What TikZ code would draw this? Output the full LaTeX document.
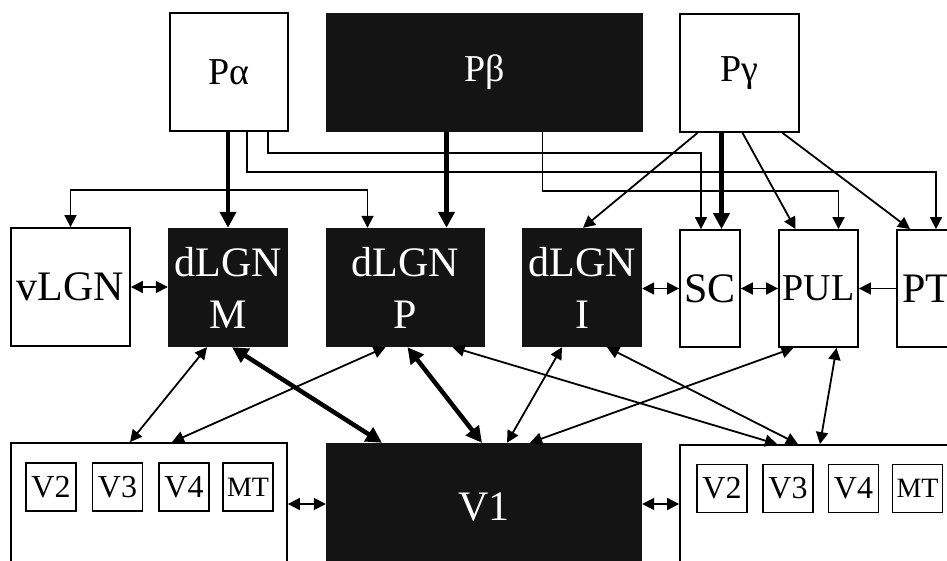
\documentclass[tikz,border=0pt]{standalone}
\usepackage{fontspec}
\setmainfont{Liberation Serif}
\usetikzlibrary{shapes.geometric, arrows.meta}
\tikzstyle{lightbox} = [rectangle, draw, line width=1.8pt, fill=white, text centered, inner sep=0pt, align=center]
\tikzstyle{darkbox} = [rectangle, fill=black!92, text=white, text centered, inner sep=0pt, align=center]
\tikzstyle{areabox} = [rectangle, draw, line width=1.4pt, fill=white, minimum width=50pt, minimum height=48pt, inner sep=0pt, font=\fontsize{32}{36}\selectfont]
\tikzstyle{greektxt} = [font=\fontsize{38}{44}\selectfont]
\tikzstyle{nametxt} = [font=\fontsize{42}{52}\selectfont]
\tikzstyle{arrow} = [line width=1.8pt,->,>={Triangle[length=12pt,width=12pt]}]
\tikzstyle{both} = [arrow,<->]
\tikzstyle{heavy} = [line width=4.5pt,->,>={Triangle[length=16pt,width=16pt]}]
\tikzstyle{heavyboth} = [heavy,<->]

\begin{document}
\begin{tikzpicture}[x=1pt,y=-1pt]
    \useasboundingbox (0,0) rectangle (947,561);
    \clip (0,0) rectangle (947,561);
    % retinal ganglion cell classes
    \node [lightbox, greektxt, minimum width=118pt, minimum height=118pt] at (229,72) (Pa) {Pα};
    \node [darkbox, greektxt, minimum width=317pt, minimum height=119pt] at (484.5,72.5) (Pb) {Pβ};
    \node [lightbox, greektxt, minimum width=119pt, minimum height=118pt] at (739.5,73) (Pg) {Pγ};
    % thalamus and midbrain
    \node [lightbox, nametxt, minimum width=119pt, minimum height=118pt] at (70.5,287) (vLGN) {vLGN};
    \node [darkbox, nametxt, minimum width=120pt, minimum height=119pt] at (228,287.5) (dLGNM) {dLGN\\M};
    \node [darkbox, nametxt, minimum width=159pt, minimum height=119pt] at (405.5,287.5) (dLGNP) {dLGN\\P};
    \node [darkbox, nametxt, minimum width=120pt, minimum height=119pt] at (582,287.5) (dLGNI) {dLGN\\I};
    \node [lightbox, nametxt, minimum width=60pt, minimum height=117pt] at (710,288.5) (SC) {SC};
    \node [lightbox, nametxt, font=\fontsize{38}{46}\selectfont, minimum width=79pt, minimum height=117pt] at (818.5,288.5) (PUL) {PUL};
    \node [lightbox, nametxt, minimum width=60pt, minimum height=117pt] at (927,288.5) (PT) {PT};
    % cortex
    \node [lightbox, minimum width=276pt, minimum height=128pt] at (149,507) (ctxL) {};
    \node [darkbox, nametxt, minimum width=316pt, minimum height=128pt] at (484,507) (V1) {V1};
    \node [lightbox, minimum width=280pt, minimum height=126pt] at (820,508) (ctxR) {};
    \node [areabox] at (51,487) (lV2) {V2};
    \node [areabox] at (117.5,487) (lV3) {V3};
    \node [areabox] at (184,487) (lV4) {V4};
    \node [areabox, font=\fontsize{28}{32}\selectfont] at (248,487) (lMT) {MT};
    \node [areabox] at (722,488.5) (rV2) {V2};
    \node [areabox] at (788,488.5) (rV3) {V3};
    \node [areabox] at (853.5,488.5) (rV4) {V4};
    \node [areabox, font=\fontsize{28}{32}\selectfont] at (917.5,488.5) (rMT) {MT};
    % retinal projections
    \coordinate (fork) at (228,190);
    \draw [heavy] (Pa.south -| dLGNM.north) -- (dLGNM.north);
    \draw [arrow] (fork) -| (vLGN.north);
    \draw [arrow] (fork) -| ([xshift=-38pt]dLGNP.north);
    \draw [arrow] ([xshift=39pt]Pa.south) -- ++(0,21) -| ([xshift=-9pt]SC.north);
    \draw [arrow] ([xshift=18pt]Pa.south) -- ++(0,40) -| ([xshift=9pt]PT.north);
    \draw [heavy] ([xshift=-38pt]Pb.south) -- ([xshift=-38pt]Pb.south |- dLGNP.north);
    \draw [arrow] ([xshift=58pt]Pb.south) -- ++(0,59) -| ([xshift=20pt]PUL.north);
    \draw [arrow] ([xshift=-42pt]Pg.south) -- ([xshift=1pt]dLGNI.north);
    \draw [heavy] ([xshift=-18pt]Pg.south) -- ([xshift=-18pt]Pg.south |- SC.north);
    \draw [arrow] ([xshift=3pt]Pg.south) -- ([xshift=-23pt]PUL.north);
    \draw [arrow] ([xshift=43pt]Pg.south) -- ([xshift=-17pt]PT.north);
    % links within the row
    \draw [both] (vLGN.east) -- (vLGN.east -| dLGNM.west);
    \draw [both] (SC.west -| dLGNI.east) -- (SC.west);
    \draw [both] (SC.east) -- (PUL.west);
    \draw [arrow] (PT.west) -- (PUL.east);
    % thalamo-cortical links
    \draw [both] ([xshift=-21pt]dLGNM.south) -- ([xshift=-19pt]ctxL.north);
    \draw [heavyboth] ([xshift=4pt]dLGNM.south) -- ([xshift=-102pt]V1.north);
    \draw [both] ([xshift=-20pt]dLGNP.south) -- ([xshift=23pt]ctxL.north);
    \draw [heavyboth] ([xshift=2pt]dLGNP.south) -- ([xshift=-2pt]V1.north);
    \draw [both] ([xshift=47pt]dLGNP.south) -- ([xshift=-43pt]ctxR.north);
    \draw [both] ([xshift=-20pt]dLGNI.south) -- ([xshift=23pt]V1.north);
    \draw [both] ([xshift=25pt]dLGNI.south) -- ([xshift=-22pt]ctxR.north);
    \draw [both] ([xshift=-25pt]PUL.south) -- ([xshift=46pt]V1.north);
    \draw [both] ([xshift=18pt]PUL.south) -- (ctxR.north);
    \draw [both] ([yshift=3pt]ctxL.east) -- ([yshift=3pt]ctxL.east -| V1.west);
    \draw [both] ([yshift=3pt]V1.east) -- ([yshift=3pt]V1.east -| ctxR.west);
\end{tikzpicture}
\end{document}
